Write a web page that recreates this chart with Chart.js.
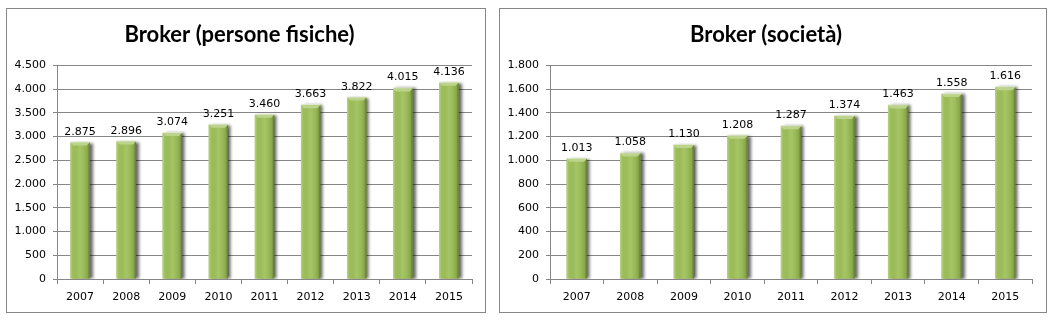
<!DOCTYPE html>
<html>
<head>
<meta charset="utf-8">
<script src="https://cdn.jsdelivr.net/npm/chart.js@4/dist/chart.umd.min.js"></script>
<style>
  body { margin: 0; background: #fff; }
  .panel { position: absolute; top: 8px; height: 305px; border: 1px solid #878787; box-sizing: border-box; background: #fff; }
  .panel canvas { display: block; }
</style>
</head>
<body>
<div class="panel" style="left:6px;width:480px;"><canvas id="chartPF"></canvas></div>
<div class="panel" style="left:499px;width:548px;"><canvas id="chartSoc"></canvas></div>
<script>
// data
const years = ['2007', '2008', '2009', '2010', '2011', '2012', '2013', '2014', '2015'];
const personeFisiche = [2875, 2896, 3074, 3251, 3460, 3663, 3822, 4015, 4136];
const societa = [1013, 1058, 1130, 1208, 1287, 1374, 1463, 1558, 1616];
const pfAxis = { max: 4500, step: 500 };
const socAxis = { max: 1800, step: 200 };

const gridColor = '#868686';
const tickFont = { family: 'DejaVu Sans', size: 11 };

// 1.234 style thousands
function fmt(v) {
    return String(v).replace(/\B(?=(\d{3})+(?!\d))/g, '.');
}

// shadow on the right of the bars + excel-ish bevel
const barLook = {
    id: 'barLook',
    beforeDatasetDraw(chart) {
        const ctx = chart.ctx;
        ctx.save();
        ctx.shadowColor = 'rgba(0,0,0,0.6)';
        ctx.shadowOffsetX = 3;
        ctx.shadowOffsetY = 0;
        ctx.shadowBlur = 3;
    },
    afterDatasetDraw(chart, args) {
        const ctx = chart.ctx;
        ctx.restore();
        args.meta.data.forEach(bar => {
            const w = bar.width;
            const left = bar.x - w / 2;
            const top = bar.y;
            const h = bar.base - bar.y;
            const g = ctx.createLinearGradient(left, 0, left + w, 0);
            g.addColorStop(0, '#b9d286');
            g.addColorStop(0.12, '#9dbd5b');
            g.addColorStop(0.3, '#9bbb59');
            g.addColorStop(0.5, '#a6c566');
            g.addColorStop(0.7, '#9bbb59');
            g.addColorStop(0.88, '#8aa94b');
            g.addColorStop(1, '#5f7530');
            ctx.fillStyle = g;
            ctx.fillRect(left, top, w, h);
            // top bevel
            ctx.beginPath();
            ctx.moveTo(left, top);
            ctx.lineTo(left + w, top);
            ctx.lineTo(left + w - 3, top + 3);
            ctx.lineTo(left + 3, top + 3);
            ctx.closePath();
            ctx.fillStyle = '#bcd38b';
            ctx.fill();
            ctx.fillStyle = '#dfe8cc';
            ctx.fillRect(left, top - 1, w, 1);
        });
    }
};

const valueLabels = {
    id: 'valueLabels',
    afterDatasetsDraw(chart) {
        const ctx = chart.ctx;
        ctx.save();
        ctx.font = '11px "DejaVu Sans"';
        ctx.fillStyle = '#000';
        ctx.textAlign = 'center';
        ctx.textBaseline = 'alphabetic';
        const meta = chart.getDatasetMeta(0);
        meta.data.forEach((bar, i) => {
            ctx.fillText(fmt(chart.data.datasets[0].data[i]), bar.x, bar.y - 8);
        });
        ctx.restore();
    }
};

function makeChart(id, title, values, axis, rightPad, barPct) {
    return new Chart(document.getElementById(id), {
        type: 'bar',
        data: {
            labels: years,
            datasets: [{
                data: values,
                backgroundColor: '#9bbb59',
                borderWidth: 0,
                barPercentage: barPct,
                categoryPercentage: 1
            }]
        },
        options: {
            responsive: true,
            maintainAspectRatio: false,
            animation: false,
            events: [],
            layout: { padding: { left: 0, right: rightPad, top: 0, bottom: 0 } },
            plugins: {
                legend: { display: false },
                tooltip: { enabled: false },
                title: {
                    display: true,
                    text: title,
                    color: '#000',
                    font: { family: 'Lato', size: 22, weight: 'bold' },
                    padding: { top: 13, bottom: 17 }
                }
            },
            scales: {
                x: {
                    grid: { offset: true, drawOnChartArea: false, color: gridColor, tickLength: 5 },
                    border: { color: gridColor },
                    ticks: { color: '#000', font: tickFont, padding: 7, maxRotation: 0 },
                    afterFit(scale) { scale.height = 33; }
                },
                y: {
                    min: 0,
                    max: axis.max,
                    grid: { color: gridColor, tickLength: 4 },
                    border: { color: gridColor },
                    ticks: {
                        stepSize: axis.step,
                        color: '#000',
                        font: tickFont,
                        padding: 7,
                        callback: v => fmt(v)
                    },
                    afterFit(scale) { scale.width = 50; }
                }
            }
        },
        plugins: [barLook, valueLabels]
    });
}

makeChart('chartPF', 'Broker (persone fisiche)', personeFisiche, pfAxis, 13, 0.42);
makeChart('chartSoc', 'Broker (società)', societa, socAxis, 14, 0.38);
</script>
</body>
</html>
